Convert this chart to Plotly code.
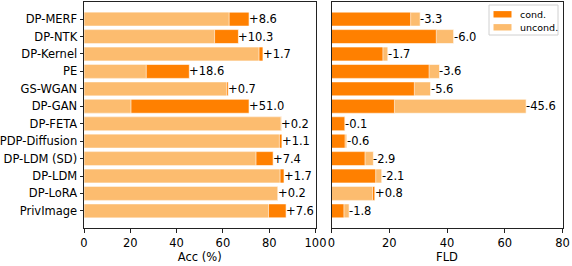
import plotly.graph_objects as go

methods = ["DP-MERF", "DP-NTK", "DP-Kernel", "PE", "GS-WGAN", "DP-GAN", "DP-FETA",
           "PDP-Diffusion", "DP-LDM (SD)", "DP-LDM", "DP-LoRA", "PrivImage"]

acc_uncond = [62.7, 56.4, 75.6, 26.9, 61.6, 20.3, 85.1, 84.4, 74.3, 84.7, 83.6, 79.7]
acc_cond = [71.3, 66.7, 77.3, 45.5, 62.3, 71.3, 85.3, 85.5, 81.7, 86.4, 83.8, 87.3]
acc_labels = ["+8.6", "+10.3", "+1.7", "+18.6", "+0.7", "+51.0", "+0.2",
              "+1.1", "+7.4", "+1.7", "+0.2", "+7.6"]

fld_cond = [27.4, 36.3, 17.8, 33.8, 28.7, 21.8, 4.6, 4.7, 11.6, 15.3, 15.0, 4.3]
fld_uncond = [30.7, 42.3, 19.5, 37.4, 34.3, 67.4, 4.7, 5.3, 14.5, 17.4, 14.2, 6.1]
fld_labels = ["-3.3", "-6.0", "-1.7", "-3.6", "-5.6", "-45.6", "-0.1",
              "-0.6", "-2.9", "-2.1", "+0.8", "-1.8"]

acc_ticks = [0, 20, 40, 60, 80, 100]
fld_ticks = [0, 20, 40, 60, 80]

legend_names = ["cond.", "uncond."]

DARK = "#ff8000"
LIGHT = "#fcbc6f"
FONT = "DejaVu Sans"
W, H = 572, 266
ypos = list(range(len(methods)))

fig = go.Figure()


def add_panel(cond, uncond, labels, xa, ya):
    hi = [max(c, u) for c, u in zip(cond, uncond)]
    lo = [min(c, u) for c, u in zip(cond, uncond)]
    hi_col = [DARK if c >= u else LIGHT for c, u in zip(cond, uncond)]
    lo_col = [LIGHT if c >= u else DARK for c, u in zip(cond, uncond)]
    for vals, cols in ((hi, hi_col), (lo, lo_col)):
        fig.add_trace(go.Bar(
            x=vals, y=ypos, orientation="h", xaxis=xa, yaxis=ya,
            marker=dict(color=cols, line=dict(color="white", width=0.6)),
            width=0.8, showlegend=False, hoverinfo="skip"))
    for y, v, t in zip(ypos, hi, labels):
        fig.add_annotation(x=v, y=y, xref=xa, yref=ya, text=t, showarrow=False,
                           xanchor="left", yanchor="middle", xshift=-2,
                           font=dict(family=FONT, size=11.5, color="black"))


add_panel(acc_cond, acc_uncond, acc_labels, "x", "y")
add_panel(fld_cond, fld_uncond, fld_labels, "x2", "y2")


def px(x):
    return x / W


def py(y):
    return 1 - y / H


# custom legend (matplotlib style)
fig.add_shape(type="rect", xref="paper", yref="paper",
              x0=px(489), x1=px(558), y0=py(35), y1=py(5),
              line=dict(color="#d0d0d0", width=1), fillcolor="white", layer="above")
for i, (name, col) in enumerate(zip(legend_names, [DARK, LIGHT])):
    cy = 14.3 + i * 13
    fig.add_shape(type="rect", xref="paper", yref="paper",
                  x0=px(493.5), x1=px(511.5), y0=py(cy + 3.2), y1=py(cy - 3.2),
                  line=dict(width=0), fillcolor=col, layer="above")
    fig.add_annotation(x=px(518), y=py(cy), xref="paper", yref="paper", text=name,
                       showarrow=False, xanchor="left", yanchor="middle",
                       font=dict(family=FONT, size=9.5, color="black"))

axis_common = dict(showline=True, linecolor="#222", linewidth=1, mirror=True,
                   showgrid=False, zeroline=False, ticks="outside", ticklen=3.5,
                   tickcolor="#222", automargin=False,
                   tickfont=dict(family=FONT, size=11.5, color="black"))

ydom = [py(228.3), py(1.7)]
fig.update_layout(
    width=W, height=H, margin=dict(l=0, r=0, t=0, b=0),
    paper_bgcolor="white", plot_bgcolor="white", barmode="overlay",
    showlegend=False,
    font=dict(family=FONT, size=11.5, color="black"),
    xaxis=dict(domain=[px(84), px(315.5)], range=[0, 100], tickvals=acc_ticks,
               title=dict(text="Acc (%)", font=dict(family=FONT, size=11.5), standoff=3),
               anchor="y", **axis_common),
    yaxis=dict(domain=ydom, range=[len(methods), -1], tickvals=ypos, ticktext=methods,
               anchor="x", **axis_common),
    xaxis2=dict(domain=[px(331.5), px(562.5)], range=[0, 80], tickvals=fld_ticks,
                title=dict(text="FLD", font=dict(family=FONT, size=11.5), standoff=3),
                anchor="y2", **axis_common),
    yaxis2=dict(domain=ydom, range=[len(methods), -1], tickvals=ypos, showticklabels=False,
                anchor="x2", **{**axis_common, "ticks": ""}),
)

fig.write_html("out.html", config={"displayModeBar": False},
               post_script="document.body.style.margin='0px';")
